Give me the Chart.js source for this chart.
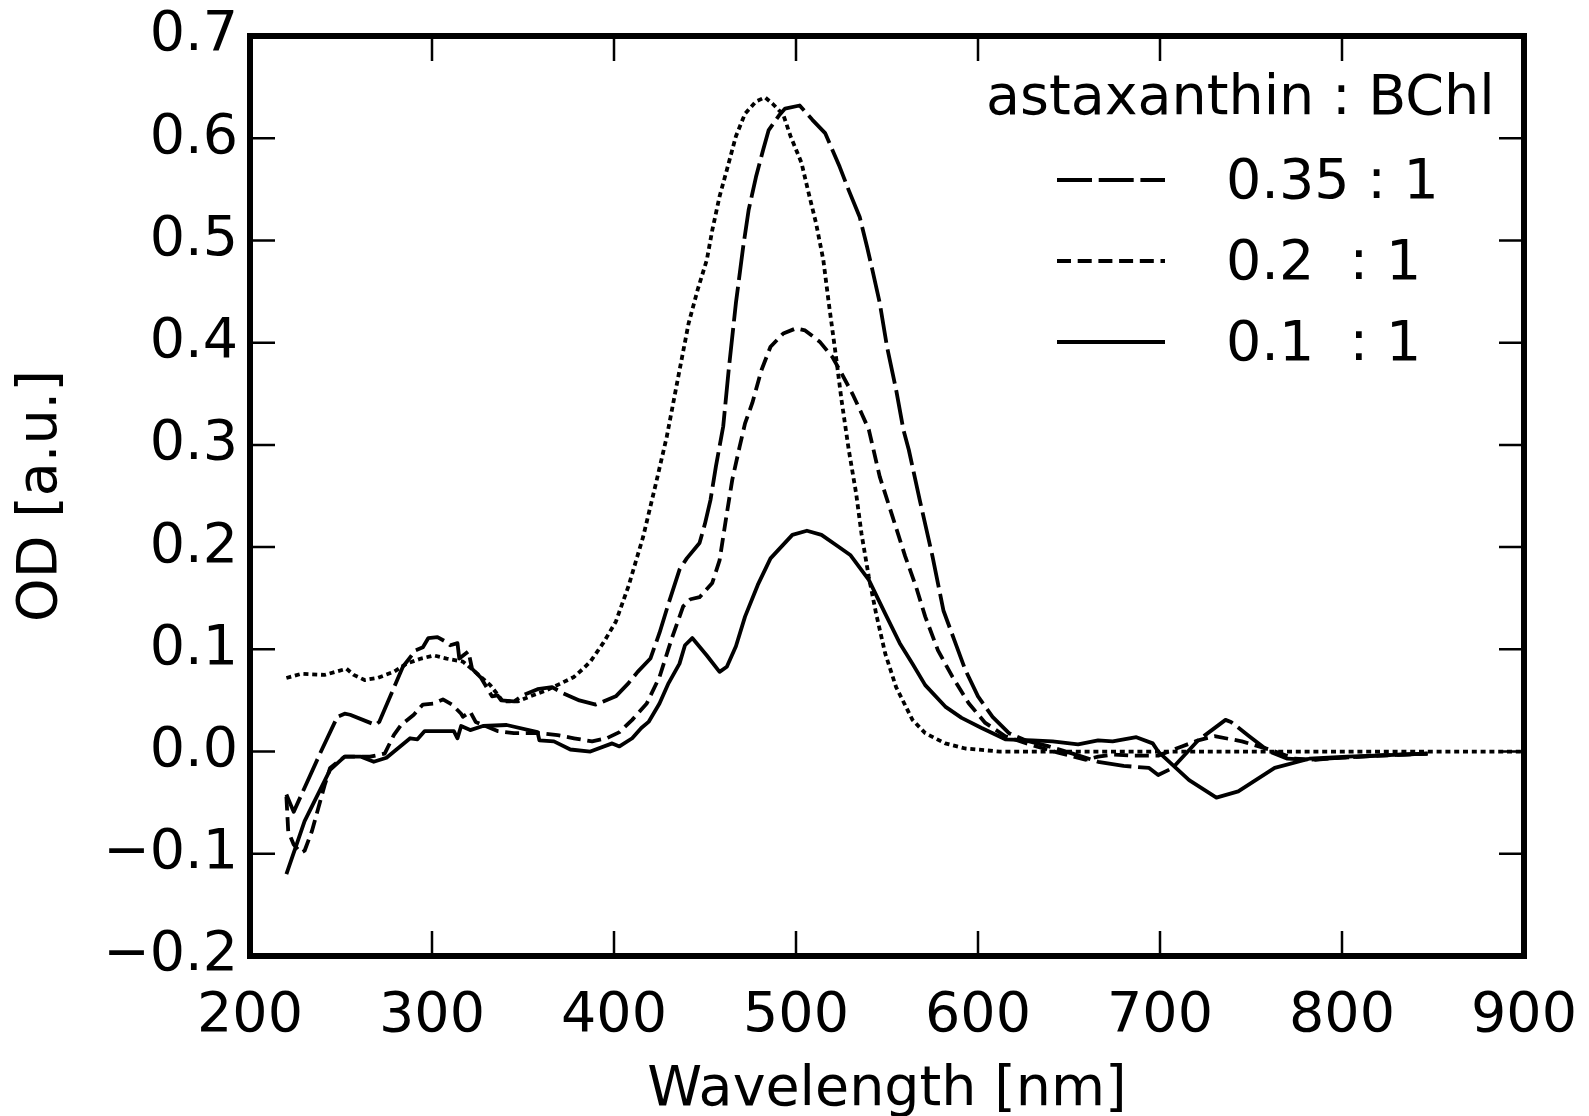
<!DOCTYPE html>
<html>
<head>
<meta charset="utf-8">
<script src="https://cdn.jsdelivr.net/npm/chart.js@4.4.1/dist/chart.umd.min.js"></script>
<style>
  html, body { margin: 0; padding: 0; background: #fff; }
  canvas { display: block; }
</style>
</head>
<body>
<canvas id="chart" width="1589" height="1116"></canvas>
<script>
// 吸収スペクトル (astaxanthin : BChl)
var wl035 = [220, 224, 239, 248, 252, 255, 269, 271, 284, 291, 295, 298, 303, 308, 310, 314, 315, 320, 322, 327,
    333, 336, 338, 345, 350, 358, 366, 372, 381, 390, 401, 408, 413, 420, 425, 430, 436, 440, 447, 450,
    453, 456, 460, 463, 467, 471, 474, 478, 482, 485, 491, 494, 502, 509, 516, 524, 529, 535, 539, 542,
    546, 550, 555, 559, 562, 568, 575, 581, 587, 593, 600, 608, 617, 626, 639, 652, 666, 680, 694, 699,
    707, 721, 736, 739, 749, 760, 770, 782, 800, 820, 847];
var od035 = [-0.042, -0.059, 0.000, 0.034, 0.037, 0.036, 0.026, 0.029, 0.083, 0.099, 0.102, 0.111, 0.112, 0.107, 0.104, 0.106, 0.091, 0.098, 0.081, 0.072,
    0.054, 0.055, 0.050, 0.049, 0.055, 0.061, 0.063, 0.057, 0.050, 0.046, 0.054, 0.067, 0.078, 0.091, 0.116, 0.145, 0.178, 0.189, 0.204, 0.223,
    0.246, 0.279, 0.318, 0.373, 0.439, 0.494, 0.530, 0.562, 0.589, 0.608, 0.623, 0.629, 0.632, 0.618, 0.605, 0.572, 0.549, 0.523, 0.494, 0.471,
    0.439, 0.396, 0.354, 0.315, 0.295, 0.246, 0.191, 0.138, 0.109, 0.080, 0.054, 0.034, 0.018, 0.011, 0.005, -0.002, -0.010, -0.014, -0.016, -0.023,
    -0.016, 0.011, 0.031, 0.029, 0.015, 0.000, -0.007, -0.008, -0.006, -0.004, -0.002];

var wl02 = [220, 221, 224, 228, 230, 234, 241, 244, 252, 266, 274, 279, 283, 290, 295, 301, 306, 311, 316, 317,
    321, 324, 328, 336, 345, 359, 369, 378, 388, 396, 403, 410, 418, 425, 432, 438, 442, 447, 454, 458,
    462, 465, 469, 472, 476, 481, 486, 493, 500, 505, 513, 520, 525, 531, 536, 540, 546, 553, 560, 566,
    571, 578, 586, 595, 604, 615, 630, 644, 659, 666, 674, 685, 699, 712, 721, 730, 745, 760, 774, 785,
    800, 820, 847];
var od02 = [-0.044, -0.078, -0.091, -0.099, -0.097, -0.078, -0.033, -0.016, -0.005, -0.005, -0.002, 0.016, 0.026, 0.036, 0.046, 0.047, 0.051, 0.046, 0.037, 0.034,
    0.039, 0.029, 0.026, 0.020, 0.018, 0.018, 0.016, 0.013, 0.010, 0.013, 0.019, 0.031, 0.047, 0.073, 0.112, 0.142, 0.149, 0.151, 0.165, 0.187,
    0.233, 0.266, 0.298, 0.321, 0.341, 0.373, 0.396, 0.409, 0.414, 0.412, 0.401, 0.386, 0.370, 0.350, 0.331, 0.315, 0.269, 0.230, 0.191, 0.161,
    0.132, 0.099, 0.073, 0.047, 0.028, 0.015, 0.006, -0.001, -0.008, -0.005, -0.003, -0.004, -0.004, 0.005, 0.011, 0.015, 0.010, 0.002, -0.007, -0.008,
    -0.006, -0.004, -0.002];

var wl01 = [220, 230, 244, 252, 261, 268, 275, 288, 292, 296, 312, 314, 316, 321, 328, 341, 358, 359, 367, 376,
    387, 399, 403, 410, 415, 419, 425, 430, 436, 439, 443, 451, 458, 462, 467, 472, 479, 486, 498, 506,
    514, 522, 530, 540, 549, 557, 564, 571, 582, 591, 602, 615, 630, 641, 655, 666, 674, 687, 696, 699,
    716, 731, 743, 763, 782, 803, 847];
var od01 = [-0.120, -0.068, -0.018, -0.005, -0.005, -0.010, -0.006, 0.013, 0.012, 0.020, 0.020, 0.013, 0.025, 0.021, 0.025, 0.026, 0.019, 0.011, 0.010, 0.002,
    0.000, 0.008, 0.005, 0.013, 0.023, 0.029, 0.047, 0.067, 0.086, 0.104, 0.111, 0.094, 0.078, 0.083, 0.103, 0.132, 0.163, 0.189, 0.212, 0.216,
    0.212, 0.202, 0.192, 0.168, 0.135, 0.106, 0.086, 0.065, 0.044, 0.033, 0.023, 0.012, 0.011, 0.010, 0.007, 0.011, 0.010, 0.014, 0.008, 0.000,
    -0.028, -0.045, -0.039, -0.016, -0.007, -0.005, -0.002];

// 凡例なしの点線
var wlDot = [220, 228, 241, 253, 257, 263, 270, 279, 286, 294, 301, 308, 317, 325, 332, 339, 347, 354, 363, 370,
    378, 383, 387, 394, 401, 408, 416, 423, 429, 436, 441, 446, 451, 454, 458, 462, 467, 472, 478, 483,
    487, 493, 497, 503, 507, 511, 515, 518, 522, 525, 529, 533, 536, 540, 544, 549, 555, 564, 571, 582,
    593, 612, 900];
var odDot = [0.072, 0.076, 0.075, 0.081, 0.075, 0.070, 0.072, 0.078, 0.086, 0.091, 0.094, 0.091, 0.088, 0.076, 0.065, 0.049, 0.049, 0.054, 0.060, 0.066,
    0.073, 0.081, 0.088, 0.106, 0.127, 0.162, 0.210, 0.262, 0.308, 0.373, 0.419, 0.452, 0.481, 0.510, 0.543, 0.569, 0.602, 0.624, 0.636, 0.640,
    0.634, 0.623, 0.602, 0.576, 0.546, 0.517, 0.481, 0.439, 0.386, 0.344, 0.295, 0.253, 0.213, 0.171, 0.135, 0.096, 0.063, 0.031, 0.018, 0.008,
    0.003, 0.000, 0.000];

var legendTitle = 'astaxanthin : BChl';
var labels = ['0.35 : 1', '0.2  : 1', '0.1  : 1'];

var FS = 55.5;
var LW = 3.8;
var dashLong = [35, 6.7];
var dashShort = [14, 6.7];
var dashDot = [5, 3.8];

function pts(xs, ys) {
    var out = [];
    for (var i = 0; i < xs.length; i++) {
        out.push({x: xs[i], y: ys[i]});
    }
    return out;
}

function line(label, xs, ys, dash) {
    return {
        label: label,
        data: pts(xs, ys),
        borderColor: '#000',
        borderWidth: LW,
        borderDash: dash,
        borderCapStyle: 'butt',
        borderJoinStyle: 'round',
        pointRadius: 0,
        tension: 0,
        fill: false
    };
}

// 枠と内向きの目盛り
var framePlugin = {
    id: 'frame',
    afterDatasetsDraw: function (chart) {
        var ctx = chart.ctx;
        var a = chart.chartArea;
        var xs = chart.scales.x, ys = chart.scales.y;
        ctx.save();
        ctx.strokeStyle = '#000';
        ctx.lineWidth = 2.5;
        ctx.beginPath();
        xs.ticks.forEach(function (t) {
            var px = xs.getPixelForValue(t.value);
            ctx.moveTo(px, a.bottom); ctx.lineTo(px, a.bottom - 25);
            ctx.moveTo(px, a.top); ctx.lineTo(px, a.top + 25);
        });
        ys.ticks.forEach(function (t) {
            var py = ys.getPixelForValue(t.value);
            ctx.moveTo(a.left, py); ctx.lineTo(a.left + 25, py);
            ctx.moveTo(a.right, py); ctx.lineTo(a.right - 25, py);
        });
        ctx.stroke();
        ctx.lineWidth = 6;
        ctx.strokeRect(a.left, a.top, a.right - a.left, a.bottom - a.top);

        // 凡例
        ctx.fillStyle = '#000';
        ctx.font = FS + 'px "DejaVu Sans"';
        ctx.textBaseline = 'middle';
        ctx.textAlign = 'left';
        ctx.fillText(legendTitle, 986, 100);
        var dashes = [dashLong, dashShort, []];
        for (var i = 0; i < labels.length; i++) {
            var y = 180 + i * 81;
            ctx.lineWidth = LW;
            ctx.lineCap = 'butt';
            ctx.setLineDash(dashes[i]);
            ctx.beginPath();
            ctx.moveTo(1057, y);
            ctx.lineTo(1165, y);
            ctx.stroke();
            ctx.setLineDash([]);
            ctx.fillText(labels[i], 1226, y + 4);
        }
        ctx.restore();
    }
};

Chart.defaults.font.family = '"DejaVu Sans"';
Chart.defaults.color = '#000';

var ctx = document.getElementById('chart').getContext('2d');
const chart = new Chart(ctx, {
    type: 'line',
    data: {
        datasets: [
            line(labels[0], wl035, od035, dashLong),
            line(labels[1], wl02, od02, dashShort),
            line(labels[2], wl01, od01, []),
            line('', wlDot, odDot, dashDot)
        ]
    },
    options: {
        responsive: false,
        animation: false,
        layout: { padding: { top: 36, right: 65, left: 0, bottom: 0 } },
        plugins: { legend: { display: false }, tooltip: { enabled: false } },
        scales: {
            x: {
                type: 'linear',
                min: 200,
                max: 900,
                grid: { display: false, drawTicks: false },
                border: { display: false },
                ticks: { stepSize: 100, font: { size: FS }, padding: 27, maxRotation: 0 },
                title: { display: true, text: 'Wavelength [nm]', font: { size: FS }, padding: { top: 0, bottom: -8 } },
                afterFit: function (s) {
                    s.height = 160;
                    s.paddingLeft = 0;
                    s.paddingRight = 0;
                }
            },
            y: {
                min: -0.2,
                max: 0.7,
                grid: { display: false, drawTicks: false },
                border: { display: false },
                ticks: {
                    stepSize: 0.1,
                    font: { size: FS },
                    padding: 12,
                    callback: function (v) {
                        var r = Math.round(v * 10) / 10;
                        return (r < 0 ? '\u2212' : '') + Math.abs(r).toFixed(1);
                    }
                },
                title: { display: true, text: 'OD [a.u.]', font: { size: FS }, padding: { top: 8, bottom: 0 } },
                afterFit: function (s) {
                    s.width = 250;
                    s.paddingTop = 0;
                    s.paddingBottom = 0;
                }
            }
        }
    },
    plugins: [framePlugin]
});
</script>
</body>
</html>
